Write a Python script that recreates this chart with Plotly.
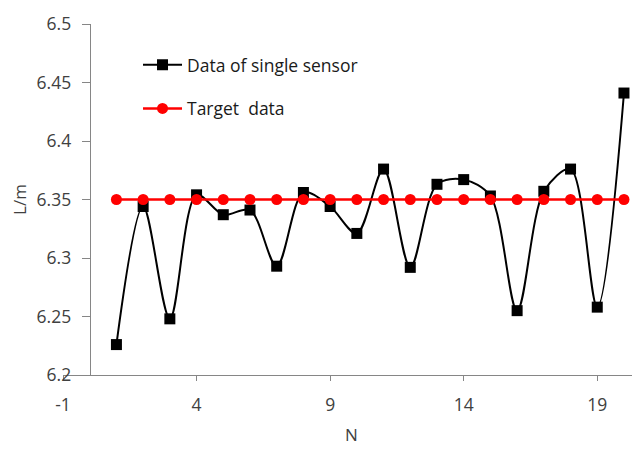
import plotly.graph_objects as go

n_values = list(range(1, 21))
sensor_values = [6.226, 6.344, 6.248, 6.354, 6.337, 6.341, 6.293, 6.356, 6.344, 6.321,
                 6.376, 6.292, 6.363, 6.367, 6.353, 6.255, 6.357, 6.376, 6.258, 6.441]
target_values = [6.35] * 20
x_tick_vals = [-1, 4, 9, 14, 19]
x_tick_text = ["-1", "4", "9", "14", "19"]
y_tick_vals = [6.2, 6.25, 6.3, 6.35, 6.4, 6.45, 6.5]
y_tick_text = ["6.2", "6.25", "6.3", "6.35", "6.4", "6.45", "6.5"]

FONT = "Open Sans"
TXT = "#404040"
AX = "#868686"
x_range = [-1, 20.6]

fig = go.Figure()
fig.add_trace(go.Scatter(
    x=n_values, y=sensor_values, name="Data of single sensor",
    mode="lines+markers", legendgroup="a",
    line=dict(color="black", width=2, shape="spline", smoothing=0.9),
    marker=dict(symbol="square", size=11, color="black"),
))
fig.add_trace(go.Scatter(
    x=n_values, y=target_values, name="Target  data",
    mode="lines+markers", legendgroup="b",
    line=dict(color="#ff0000", width=2.5),
    marker=dict(symbol="circle", size=11, color="#ff0000"),
))

# page body has an 8px default margin, so the figure is sized/positioned to compensate
fig.update_layout(
    width=632, height=441,
    margin=dict(l=55, r=0, t=16, b=74),
    paper_bgcolor="white", plot_bgcolor="white",
    font=dict(family=FONT, size=17, color=TXT),
    showlegend=True,
    legend=dict(x=0.13, y=0.935, xanchor="left", yanchor="top",
                bgcolor="rgba(0,0,0,0)", tracegroupgap=18, itemwidth=39,
                font=dict(family=FONT, size=17.5, color="#1a1a1a")),
    xaxis=dict(range=x_range, tickvals=x_tick_vals, ticktext=x_tick_text,
               ticks="outside", ticklen=5,
               tickcolor=AX, showline=True, linecolor=AX, linewidth=1,
               showgrid=False, zeroline=False, ticklabelstandoff=9,
               tickfont=dict(family=FONT, size=17.5, color=TXT),
               title=dict(text="N", font=dict(family=FONT, size=17, color=TXT), standoff=14)),
    yaxis=dict(range=[6.2, 6.5], tickvals=y_tick_vals, ticktext=y_tick_text,
               ticks="outside", ticklen=8, tickcolor=AX,
               showline=True, linecolor=AX, linewidth=1,
               showgrid=False, zeroline=False, ticklabelstandoff=7,
               anchor="free", position=(0 - x_range[0]) / (x_range[1] - x_range[0]),
               tickfont=dict(family=FONT, size=17.5, color=TXT),
               title=dict(text="L/m", font=dict(family=FONT, size=17, color=TXT), standoff=4)),
)

fig.write_html("out.html")
